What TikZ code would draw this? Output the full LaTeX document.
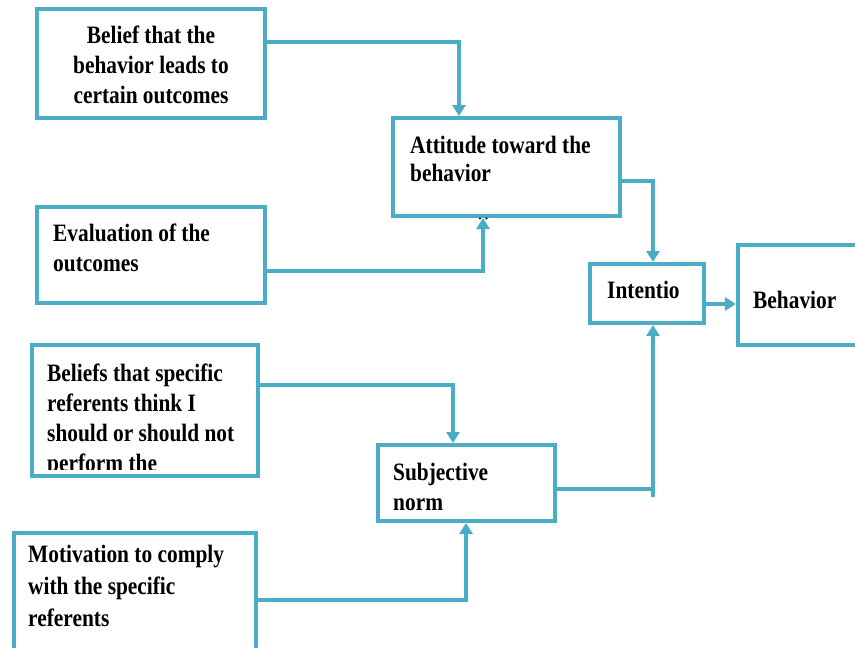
\documentclass[tikz,border=0pt]{standalone}
\usepackage{fontspec}
\setmainfont{Liberation Serif}[FakeStretch=0.855]
\usetikzlibrary{arrows.meta}
\definecolor{frame}{HTML}{4BACC6}
% multi-line label whose baseline is the first line
\newcommand\lblock[2][l]{\begin{tabular}[t]{@{}#1@{}}#2\end{tabular}}
\begin{document}
\begin{tikzpicture}[x=1pt,y=-1pt,
  box/.style={draw=frame,line width=4pt,fill=white,rectangle,inner sep=0pt},
  txt/.style={inner sep=0pt,anchor=base west,font=\fontsize{25}{30}\selectfont\bfseries},
  wire/.style={draw=frame,line width=4pt},
  conn/.style={wire,-{Triangle[width=13pt,length=11pt]}}]
\useasboundingbox (0,0) rectangle (855,648);
\fill[white] (0,0) rectangle (855,648);

% boxes
\node[box,minimum width=228pt,minimum height=109pt] (b1) at (151,63.5) {};
\node[box,minimum width=227pt,minimum height=98pt] (b2) at (506.5,167) {};
\node[box,minimum width=228pt,minimum height=96pt] (b3) at (151,255) {};
\node[box,minimum width=114pt,minimum height=59pt] (int) at (647,293.5) {};
\node[box,minimum width=137pt,minimum height=100pt] (beh) at (806.5,295) {};
\node[box,minimum width=226pt,minimum height=131pt] (b4) at (145,410.5) {};
\node[box,minimum width=177pt,minimum height=76pt] (subj) at (466.5,483) {};
\node[box,minimum width=242pt,minimum height=132pt] (b5) at (135,599) {};

% labels
\node[txt,anchor=base] (t1) at (151,43) {\lblock[c]{Belief that the\\behavior leads to\\certain outcomes}};
\node[txt] (t2) at (410,153) {\lblock{Attitude toward the\\[-1.5pt]behavior}};
\node[txt] (t3) at (53,241.7) {\lblock{Evaluation of the\\outcomes}};
\node[txt] (t4) at (607,298) {Intentio};
\node[txt] (t5) at (753,308) {Behavior};
\begin{scope}
  \clip (34,347) rectangle (256,469.5);
  \node[txt] (t6) at (47,381.7) {\lblock{Beliefs that specific\\referents think I\\should or should not\\perform the}};
\end{scope}
\node[txt] (t7) at (393,480) {\lblock{Subjective\\norm}};
\node[txt] (t8) at (28,562.5) {\lblock{Motivation to comply\\[2pt]with the specific\\[2pt]referents}};

% bend points of the connectors
\coordinate (j1) at (459,42);
\coordinate (j2) at (483,271);
\coordinate (j3) at (653,181);
\coordinate (j4) at (720,304);
\coordinate (j5) at (453,385);
\coordinate (j6) at (466,600);
\coordinate (j7) at (653,489);
\coordinate (j7b) at (653,497);

% connectors
\draw[conn] (b1.east |- j1) -| (b2.north -| j1);
\draw[conn] (b3.east |- j2) -| (b2.south -| j2);
\draw[conn] (b2.east |- j3) -| (int.north -| j3);
\draw[conn] (int.east |- j4) -- (beh.west |- j4);
\draw[conn] (b4.east |- j5) -| (subj.north -| j5);
\draw[conn] (b5.east |- j6) -| (subj.south -| j6);
\draw[wire] (subj.east |- j7) -- (j7);
\draw[conn] (j7b) -- (int.south -| j7b);

% two small marks below the attitude box
\fill (480,218.5) circle (1.1pt);
\fill (486.5,218.5) circle (1.1pt);
\end{tikzpicture}
\end{document}
